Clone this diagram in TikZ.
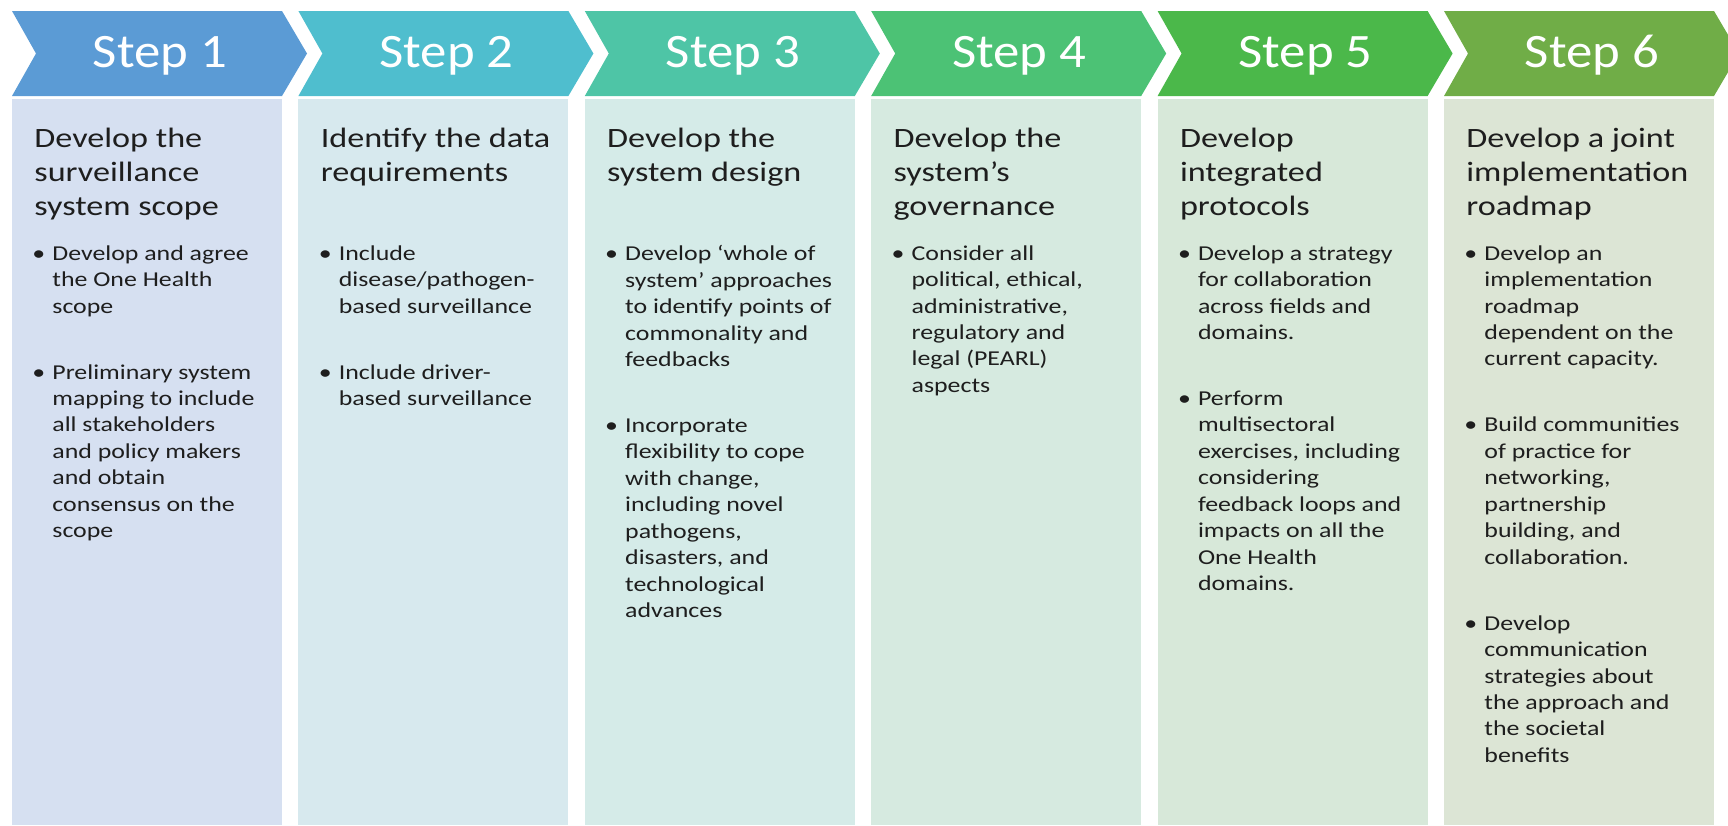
\documentclass[tikz,border=0pt]{standalone}
\usepackage{fontspec}
\setmainfont{Carlito}
\newfontfamily\headfont[FakeStretch=1.1]{Carlito}
\newfontfamily\bodyfont[FakeStretch=1.22]{Carlito}

\definecolor{head1}{RGB}{91,155,213}
\definecolor{head2}{RGB}{79,190,206}
\definecolor{head3}{RGB}{78,197,166}
\definecolor{head4}{RGB}{76,194,117}
\definecolor{head5}{RGB}{75,184,74}
\definecolor{head6}{RGB}{112,173,71}
\definecolor{pane1}{RGB}{214,224,241}
\definecolor{pane2}{RGB}{215,233,238}
\definecolor{pane3}{RGB}{213,235,232}
\definecolor{pane4}{RGB}{214,234,224}
\definecolor{pane5}{RGB}{215,232,217}
\definecolor{pane6}{RGB}{220,229,213}
\definecolor{ink}{RGB}{30,30,30}

\tikzset{
  steplabel/.style={anchor=base, text=white, font=\headfont\fontsize{24}{28}\selectfont},
  titletext/.style={anchor=north west, inner sep=0pt, align=left, text=ink,
    font=\bodyfont\fontsize{14}{17}\selectfont},
  bullettext/.style={anchor=north west, inner sep=0pt, align=left, text=ink,
    font=\bodyfont\fontsize{10.6}{13.22}\selectfont},
}
\newcommand{\bul}{\llap{\makebox[10pt][l]{\textbullet}}}
\newcommand{\gap}{\\[19.8pt]}

\begin{document}
\begin{tikzpicture}[x=0.5pt,y=-0.5pt]
\def\pitch{286.4} \def\colw{270}
\useasboundingbox (0,0) rectangle (1728,825);

% chevrons and panels
\foreach \i in {1,...,6}{
  \pgfmathsetmacro{\colx}{12+(\i-1)*\pitch}
  \fill[head\i] (\colx,11) -- ++(\colw,0) -- ++(25,42.5) -- ++(-25,42.5) -- ++(-\colw,0) -- ++(24,-42.5) -- cycle;
  \fill[pane\i] (\colx,99) rectangle ++(\colw,726);
  \node[steplabel] (step\i) at (\colx+148,67) {Step \i};
  \coordinate (t\i) at (\colx+22,128);
  \coordinate (b\i) at (\colx+40,245);
}

% step titles
\node[titletext] (title1) at (t1) {Develop the\\surveillance\\system scope};
\node[titletext] (title2) at (t2) {Identify the data\\requirements};
\node[titletext] (title3) at (t3) {Develop the\\system design};
\node[titletext] (title4) at (t4) {Develop the\\system’s\\governance};
\node[titletext] (title5) at (t5) {Develop\\integrated\\protocols};
\node[titletext] (title6) at (t6) {Develop a joint\\implementation\\roadmap};

% bullet lists
\node[bullettext] (list1) at (b1) {\bul Develop and agree\\the One Health\\scope\gap
  \bul Preliminary system\\mapping to include\\all stakeholders\\and policy makers\\and obtain\\consensus on the\\scope};
\node[bullettext] (list2) at (b2) {\bul Include\\disease/pathogen-\\based surveillance\gap
  \bul Include driver-\\based surveillance};
\node[bullettext] (list3) at (b3) {\bul Develop ‘whole of\\system’ approaches\\to identify points of\\commonality and\\feedbacks\gap
  \bul Incorporate\\flexibility to cope\\with change,\\including novel\\pathogens,\\disasters, and\\technological\\advances};
\node[bullettext] (list4) at (b4) {\bul Consider all\\political, ethical,\\administrative,\\regulatory and\\legal (PEARL)\\aspects};
\node[bullettext] (list5) at (b5) {\bul Develop a strategy\\for collaboration\\across fields and\\domains.\gap
  \bul Perform\\multisectoral\\exercises, including\\considering\\feedback loops and\\impacts on all the\\One Health\\domains.};
\node[bullettext] (list6) at (b6) {\bul Develop an\\implementation\\roadmap\\dependent on the\\current capacity.\gap
  \bul Build communities\\of practice for\\networking,\\partnership\\building, and\\collaboration.\gap
  \bul Develop\\communication\\strategies about\\the approach and\\the societal\\benefits};
\end{tikzpicture}
\end{document}
